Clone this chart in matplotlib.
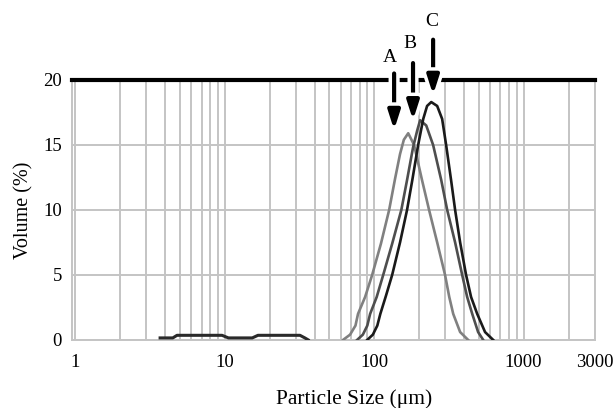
import matplotlib
matplotlib.use("Agg")
import matplotlib.pyplot as plt
import matplotlib.patheffects as pe
from matplotlib.ticker import LogLocator, NullFormatter

plt.rcParams['font.family'] = ['Liberation Serif', 'DejaVu Serif']

# values
fine_size = [3.7, 4.5, 4.8, 9.6, 10.6, 15.3, 16.7, 31.9, 34.4, 36.2]
fine_vol = [0.15, 0.15, 0.35, 0.35, 0.15, 0.15, 0.35, 0.35, 0.15, 0.0]

size_a = [62, 69, 75, 78, 87, 97, 111, 126, 138, 149, 158, 169, 185, 209, 233, 264, 298, 318, 338, 376, 425]
vol_a = [0, 0.4, 1.1, 2, 3.3, 5, 7.4, 10, 12.4, 14.3, 15.4, 15.9, 15, 12.3, 10, 7.5, 5, 3.3, 2, 0.6, 0]

size_b = [77, 84, 90, 94, 104, 115, 132, 152, 166, 182, 194, 203, 223, 248, 281, 308, 348, 388, 419, 453, 496, 536]
vol_b = [0, 0.4, 1.1, 2, 3.3, 5, 7.4, 10, 12.3, 14.8, 16.1, 16.9, 16.5, 15, 12.3, 10, 7.5, 5, 3.3, 2, 0.6, 0]

size_c = [90, 98, 105, 110, 120, 132, 149, 166, 180, 197, 213, 226, 241, 264, 285, 303, 327, 348, 376, 412, 445, 489, 552, 625]
vol_c = [0, 0.4, 1.1, 2, 3.4, 5, 7.5, 10, 12.3, 15, 17, 18, 18.3, 18, 17, 15, 12.3, 10, 7.5, 5, 3.3, 2, 0.6, 0]

sample_names = ['A', 'B', 'C']
# arrow tip / tail and letter position per sample
arrow_x = [136, 182, 248]
arrow_tip = [16.15, 16.9, 18.85]
arrow_tail = [20.5, 21.3, 23.1]
letter_x = [128, 174, 244]
letter_y = [21.7, 22.8, 24.5]

x_ticks = [1, 10, 100, 1000, 3000]
y_ticks = [0, 5, 10, 15, 20]

fig = plt.figure(figsize=(6.14, 4.08), dpi=100)
ax = fig.add_axes([0.117, 0.167, 0.852, 0.637])

ax.set_xscale('log')
ax.set_xlim(0.95, 3000)
ax.set_ylim(0, 20)

# grid: every log subdivision on x, steps of 5 on y
ax.xaxis.set_minor_locator(LogLocator(base=10, subs=range(2, 10), numticks=20))
ax.xaxis.set_minor_formatter(NullFormatter())
ax.set_xticks(x_ticks)
ax.set_xticklabels([str(t) for t in x_ticks])
ax.set_yticks(y_ticks)
ax.grid(True, which='both', axis='x', color='#c4c4c4', lw=1.4)
ax.grid(True, which='major', axis='y', color='#c4c4c4', lw=1.4)
ax.tick_params(which='both', length=0, labelsize=13.5)
ax.tick_params(axis='x', pad=10)
ax.tick_params(axis='y', pad=7)

for side in ['left', 'right', 'bottom']:
    ax.spines[side].set_color('#c4c4c4')
    ax.spines[side].set_linewidth(1.4)
ax.spines['top'].set_color('black')
ax.spines['top'].set_linewidth(3)

for sizes, vols, col in [(size_a, vol_a, '#808080'), (size_b, vol_b, '#4e4e4e'), (size_c, vol_c, '#1a1a1a')]:
    ax.plot(sizes, vols, color=col, lw=1.9, zorder=3, solid_joinstyle='round')
# small-particle bump is shared by all three runs
ax.plot(fine_size, fine_vol, color='#2a2a2a', lw=2.2, zorder=3)

for name, ax_x, tip, tail, lx, ly in zip(sample_names, arrow_x, arrow_tip, arrow_tail, letter_x, letter_y):
    ann = ax.annotate('', xy=(ax_x, tip), xytext=(ax_x, tail),
                      arrowprops=dict(arrowstyle='-|>,head_length=1.1,head_width=0.35',
                                      color='black', lw=3, shrinkA=0, shrinkB=0),
                      annotation_clip=False, zorder=5)
    ann.arrow_patch.set_path_effects([pe.withStroke(linewidth=8, foreground='white')])
    ax.text(lx, ly, name, ha='center', va='center', fontsize=14, clip_on=False)

ax.set_ylabel('Volume (%)', fontsize=14.5, labelpad=7)
ax.set_xlabel('Particle Size (μm)', fontsize=15.5)
ax.xaxis.set_label_coords(0.539, -0.19)

fig.savefig('out.png', dpi=100)
